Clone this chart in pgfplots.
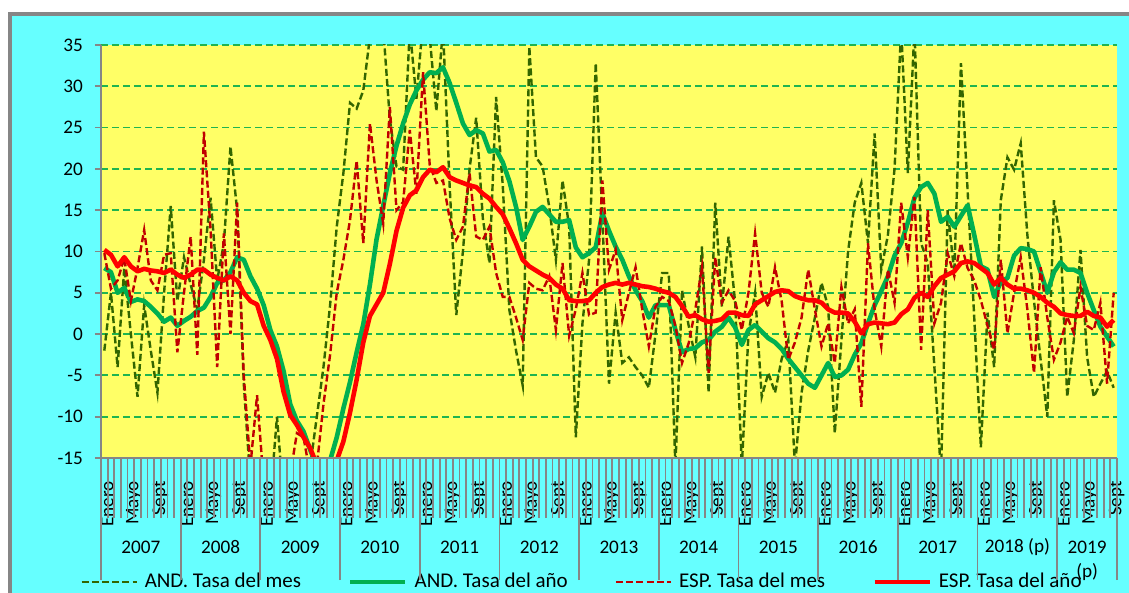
\documentclass[border=0pt]{standalone}
\usepackage{pgfplots}
\pgfplotsset{compat=1.18}
\usepackage{pgfplotstable}
\usepackage{fontspec}
\setmainfont{Carlito}
\definecolor{bgcyan}{RGB}{102,255,255}
\definecolor{plotyellow}{RGB}{255,255,102}
\definecolor{gridgreen}{RGB}{30,180,80}
\definecolor{axisgray}{RGB}{134,134,134}
\definecolor{andmc}{RGB}{51,102,0}
\definecolor{andac}{RGB}{0,176,80}
\definecolor{espmc}{RGB}{192,0,0}
\definecolor{espac}{RGB}{255,0,0}
\newcommand{\tfont}{\fontsize{9.6}{11}\selectfont}
\newcommand{\lfont}{\fontsize{10.5}{12}\selectfont}

\pgfplotstableread{
i andm anda espm espa
0 -2 8.0 9.8 10.2
1 5 7.5 5.5 9.6
2 -4 5.0 6.5 8.2
3 8 5.6 9.2 9.3
4 0 3.9 4 8.2
5 -7.6 4.2 8 7.6
6 3.5 4.0 12.6 7.9
7 -2 3.3 6.5 7.7
8 -7.1 2.5 5.3 7.6
9 5 1.5 9.6 7.4
10 15.5 2.0 9.8 7.8
11 4 1.0 -2.2 7.2
12 9.3 1.6 5 6.8
13 6 2.1 11.8 7.2
14 3 2.8 -2.5 7.8
15 9 3.2 24.5 7.8
16 16.5 4.5 12.6 7.2
17 6.5 6.2 -4 6.8
18 11 6.5 12.2 6.5
19 22.7 7.5 0 7.0
20 15 9.3 15.9 6.5
21 -6 9.0 -5 5.0
22 -18 7.0 -16 4.0
23 -20 5.5 -7.4 3.6
24 -22 3.5 -18 1.0
25 -20 0.5 -20 -0.7
26 -10 -1.5 -16 -3.0
27 -20 -4.5 -19 -7.0
28 -18 -8.5 -17 -9.8
29 -17 -10.5 -12 -11.0
30 -19 -11.8 -12.5 -12.5
31 -16 -14 -17 -13.8
32 -10 -16 -16 -15.8
33 -4 -16.5 -8.5 -16.5
34 3.5 -15.3 -2.5 -16.5
35 13 -12.5 5 -15.3
36 19.5 -9 9 -13
37 28 -5.8 13.8 -9.5
38 27.3 -2.2 21 -5.5
39 29.5 1.2 11 -1
40 36 6 25.5 2.2
41 38 11.5 18.6 3.6
42 37 15.5 13.4 5.0
43 26 19.5 27.5 8.5
44 20.3 22.8 15 12.5
45 19.9 25.5 16 15.3
46 37 27.8 24.7 16.8
47 28.5 29.5 17 17.4
48 38 30.8 31.7 19.0
49 36 31.7 20.5 19.9
50 27 31.6 18.3 19.6
51 37 32.3 18.6 20.2
52 18 30.4 14 19.0
53 2.3 28 11.4 18.6
54 10 25.5 13 18.3
55 20 24.1 19.5 18.0
56 26.2 24.7 11.8 17.8
57 14 24.3 11.4 17.0
58 8.6 22.1 13 16.4
59 28.7 22.3 7.4 15.4
60 18 20.8 4.5 14.5
61 2.9 18.5 4.5 12.8
62 -2 15.4 2 11.0
63 -6.2 11.4 -0.7 9.0
64 34.8 13 6.2 8.2
65 21.4 14.8 5.5 7.7
66 20.3 15.4 5.3 7.2
67 15.4 14.5 7 6.8
68 9 13.6 0.5 6.0
69 18.6 13.6 8.6 5.5
70 13 13.8 -0.2 4.1
71 -12.5 10.5 3 4.0
72 1.3 9.3 7.4 4.0
73 9 9.8 2.3 4.1
74 32.8 10.5 2.6 5.0
75 14 14.6 18.6 5.7
76 -6 12.5 7.8 6.0
77 2.6 10.6 10.2 6.2
78 -3.5 9.0 1.7 6.0
79 -2.8 7.0 5 6.2
80 -4 5.3 8.1 6.0
81 -5 4.0 3 5.8
82 -6.5 2.0 -1.5 5.7
83 0 3.5 3.3 5.5
84 7.4 3.5 4.5 5.2
85 7.4 3.5 4 5.0
86 -16 0.5 1 4.5
87 5.3 -2.2 -3.5 3.4
88 1 -1.8 -1.1 2.1
89 -2.8 -1.7 3 2.3
90 10.6 -1.0 8.1 1.8
91 -7.1 -0.7 -4.7 1.5
92 15.9 0.3 9.3 1.6
93 3.3 0.9 3.8 1.8
94 11.8 2.0 5.3 2.6
95 3.8 0.8 4 2.6
96 -16 -1.3 0.5 2.3
97 0 0.5 5 2.2
98 5 1.1 12.2 3.6
99 -7.6 0.3 5 4.1
100 -4.7 -0.5 3.3 4.6
101 -7.1 -1.0 8.1 5.1
102 -3 -1.8 4 5.3
103 -0.7 -3.0 -3.1 5.2
104 -16 -4.0 -1 4.6
105 -7.1 -5.0 2 4.3
106 -2 -6.0 7.8 4.1
107 2 -6.5 3 4.1
108 6.2 -5.0 -1.5 3.8
109 3.3 -3.5 1.3 3.0
110 -12 -5.2 -3.5 2.6
111 -0.7 -5.0 5.7 2.6
112 10 -4.3 1.3 2.5
113 15.9 -2.5 3 1.5
114 18.3 -1.1 -8.8 0.1
115 11 1.3 11 1.2
116 24.3 3.5 3 1.4
117 7.8 5.2 -1.5 1.3
118 12 7.0 7.8 1.2
119 20 9.5 3.8 1.4
120 37 11 15.9 2.4
121 19.5 13.5 9.3 3.0
122 37 16.5 16.6 4.4
123 11 17.8 -1.9 5.0
124 8.6 18.3 15 4.5
125 -4 17.0 1.3 5.8
126 -17 13.6 3.8 6.8
127 15 14.2 9.8 7.2
128 7.4 13.0 7 7.6
129 32.8 14.3 11 8.6
130 17.4 15.6 8 8.8
131 2 12 6.5 8.6
132 -13.7 8.2 4.1 8.0
133 2.6 7.8 1 7.4
134 -4 4.5 -1.9 6.0
135 16.2 6.3 9 6.8
136 21.4 6.8 0.1 6.0
137 19.9 9.5 5 5.5
138 23.1 10.4 9.3 5.5
139 12 10.3 3 5.3
140 4 10.0 -4.7 5.0
141 -3.1 7.5 8.1 4.5
142 -10 5.0 2 3.8
143 16.2 7.5 -3.1 3.3
144 11.4 8.7 -1 2.5
145 -7.6 7.8 2.1 2.3
146 -0.7 7.8 0.1 2.2
147 10.2 7.4 5.7 2.2
148 -2.8 5.0 1 2.7
149 -7.6 2.9 0.5 2.2
150 -6 0.9 3.8 2.0
151 -4.5 -0.3 -6 0.9
152 -6.5 -1.5 5 1.7
}\datatable

\begin{document}
\begin{tikzpicture}
\useasboundingbox (-50.5pt,-67.5pt) rectangle (514pt,229pt);
\fill[white] (-50.5pt,-67.5pt) rectangle (514pt,229pt);
\fill[bgcyan] (-45.5pt,-70pt) rectangle (516pt,222pt);
\draw[axisgray, line width=1.7pt] (-45.5pt,-70pt) -- (-45.5pt,222pt) -- (516pt,222pt);
\begin{axis}[
  scale only axis, width=508pt, height=206.5pt,
  at={(0pt,0pt)}, anchor=south west,
  xmin=-0.5, xmax=152.5, ymin=-15, ymax=35,
  clip mode=individual,
  axis background/.style={fill=plotyellow},
  axis x line*=bottom, axis y line*=left,
  axis line style={draw=axisgray, line width=0.9pt, -},
  ytick={-15,-10,...,35},
  yticklabels={-15,-10,-5,0,5,10,15,20,25,30,35},
  ymajorgrids,
  major grid style={draw=gridgreen, line width=0.9pt, dash pattern=on 3.5pt off 2pt},
  xtick={0,4,...,152},
  xticklabels={Enero,Mayo,Sept,Enero,Mayo,Sept,Enero,Mayo,Sept,Enero,Mayo,Sept,Enero,Mayo,Sept,Enero,Mayo,Sept,Enero,Mayo,Sept,Enero,Mayo,Sept,Enero,Mayo,Sept,Enero,Mayo,Sept,Enero,Mayo,Sept,Enero,Mayo,Sept,Enero,Mayo,Sept},
  tick align=outside, major tick length=3pt,
  xtick style={draw=none},
  ytick style={draw=axisgray, line width=0.9pt},
  xticklabel shift=5pt,
  xticklabel style={font=\tfont, xshift=1.5pt, rotate=90, anchor=east},
  yticklabel style={font=\tfont, xshift=-2.5pt},
  legend style={at={(-0.0207,-0.3002)}, anchor=west, draw=none, fill=none,
    font=\lfont, inner sep=0pt,
    /tikz/every odd column/.append style={column sep=1.5pt},
    /tikz/every even column/.append style={column sep=21.5pt}},
  legend columns=4,
  legend cell align=left,
  legend image code/.code={\draw[#1] (0pt,0pt) -- (27.5pt,0pt);},
]
\addplot[andmc, line width=1.2pt, dash pattern=on 3.5pt off 1.6pt] table[x=i,y=andm]{\datatable};
\addlegendentry{AND. Tasa del mes}
\addplot[andac, line width=2.3pt, line join=round] table[x=i,y=anda]{\datatable};
\addlegendentry{AND. Tasa del año}
\addplot[espmc, line width=1.2pt, dash pattern=on 3.5pt off 1.6pt] table[x=i,y=espm]{\datatable};
\addlegendentry{ESP. Tasa del mes}
\addplot[espac, line width=2.3pt, line join=round] table[x=i,y=espa]{\datatable};
\addlegendentry{ESP. Tasa del año}
\node[font=\tfont] at (axis cs:5.5,-15) [yshift=-44.5pt] {2007};
\node[font=\tfont] at (axis cs:17.5,-15) [yshift=-44.5pt] {2008};
\node[font=\tfont] at (axis cs:29.5,-15) [yshift=-44.5pt] {2009};
\node[font=\tfont] at (axis cs:41.5,-15) [yshift=-44.5pt] {2010};
\node[font=\tfont] at (axis cs:53.5,-15) [yshift=-44.5pt] {2011};
\node[font=\tfont] at (axis cs:65.5,-15) [yshift=-44.5pt] {2012};
\node[font=\tfont] at (axis cs:77.5,-15) [yshift=-44.5pt] {2013};
\node[font=\tfont] at (axis cs:89.5,-15) [yshift=-44.5pt] {2014};
\node[font=\tfont] at (axis cs:101.5,-15) [yshift=-44.5pt] {2015};
\node[font=\tfont] at (axis cs:113.5,-15) [yshift=-44.5pt] {2016};
\node[font=\tfont] at (axis cs:125.5,-15) [yshift=-44.5pt] {2017};
\node[font=\tfont] at (axis cs:137.5,-15) [yshift=-44.5pt] {2018 (p)};
\node[font=\tfont] at (axis cs:148,-15) [yshift=-44.5pt] {2019};
\node[font=\tfont] at (axis cs:148,-15) [yshift=-57pt] {(p)};
\end{axis}
\begin{axis}[
  scale only axis, width=508pt, height=206.5pt,
  at={(0pt,0pt)}, anchor=south west,
  xmin=-0.5, xmax=152.5, ymin=-15, ymax=35,
  axis x line*=bottom, axis y line=none,
  axis line style={draw=axisgray, line width=0.9pt, -},
  xtick={-0.5,0.5,...,152.5},
  minor xtick={-0.5,11.5,23.5,35.5,47.5,59.5,71.5,83.5,95.5,107.5,119.5,131.5,143.5,152.5},
  xticklabels={},
  ytick=\empty,
  tick align=outside,
  major tick length=30pt, minor tick length=61pt,
  tick style={draw=axisgray, line width=0.9pt},
]
\end{axis}
\end{tikzpicture}
\end{document}
